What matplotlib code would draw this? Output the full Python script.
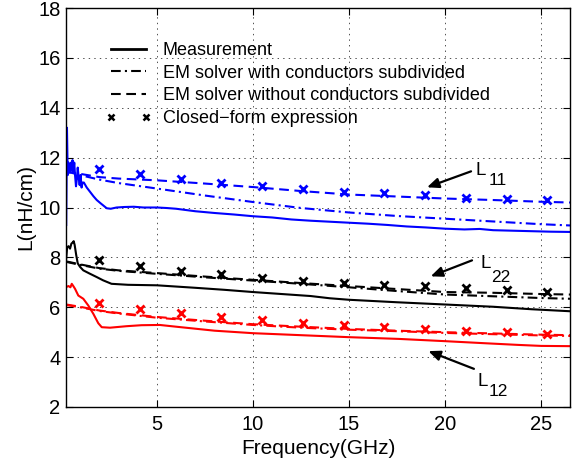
import matplotlib
matplotlib.use("Agg")
import matplotlib.pyplot as plt

plt.rcParams['font.family'] = ['Liberation Sans', 'DejaVu Sans']
plt.rcParams['lines.scale_dashes'] = False

# ---------------- data ----------------
# L11 (blue)
f_meas11 = [0.28, 0.32, 0.36, 0.40, 0.44, 0.48, 0.53, 0.57, 0.61, 0.65, 0.70, 0.74, 0.79, 0.83,
            0.88, 0.93, 0.98, 1.03, 1.08, 1.13, 1.2, 1.35, 1.5, 1.7, 1.87, 2.1, 2.39, 2.6, 2.9,
            3.3, 3.8, 4.3, 5.0, 5.5, 6.0, 7.0, 8.0, 9.0, 10.0, 11.0, 12.0, 13.0, 14.0, 15.0,
            16.0, 17.0, 18.0, 19.0, 20.0, 21.0, 21.8, 22.5, 23.5, 24.5, 25.5, 26.5]
L11_meas = [9.3, 13.2, 11.3, 11.8, 11.4, 11.4, 11.8, 11.5, 11.9, 11.4, 11.8, 11.3, 10.85, 11.1,
            11.6, 11.2, 10.9, 11.3, 10.8, 11.0, 11.0, 10.8, 10.65, 10.45, 10.3, 10.15, 9.97, 9.95, 10.0,
            10.02, 10.03, 10.0, 10.0, 9.98, 9.95, 9.85, 9.78, 9.72, 9.65, 9.6, 9.52, 9.47, 9.43, 9.39,
            9.35, 9.3, 9.24, 9.2, 9.15, 9.12, 9.14, 9.09, 9.07, 9.05, 9.03, 9.02]
f_em = [0.28, 1.0, 2.0, 3.0, 5.0, 7.5, 10.0, 12.5, 15.0, 17.5, 20.0, 22.5, 25.0, 26.5]
L11_sub = [11.45, 11.3, 11.12, 10.98, 10.76, 10.48, 10.22, 9.98, 9.8, 9.66, 9.55, 9.44, 9.33, 9.28]
L11_nosub = [11.45, 11.35, 11.22, 11.16, 11.09, 10.96, 10.82, 10.66, 10.52, 10.44, 10.36, 10.3, 10.23, 10.2]
f_cf = [2.0, 4.12, 6.24, 8.36, 10.48, 12.6, 14.72, 16.84, 18.96, 21.08, 23.2, 25.32]
L11_cf = [11.53, 11.33, 11.13, 10.98, 10.85, 10.73, 10.62, 10.58, 10.49, 10.4, 10.36, 10.29]

# L22 (black)
f_meas22 = [0.28, 0.33, 0.40, 0.48, 0.55, 0.62, 0.67, 0.72, 0.80, 0.88, 1.0, 1.17, 1.5, 1.87,
            2.2, 2.64, 3.5, 5.0, 6.0, 7.0, 8.5, 10.0, 11.5, 13.0, 14.0, 15.0, 17.5, 20.0, 22.5, 24.5, 26.5]
L22_meas = [7.95, 8.4, 8.45, 8.35, 8.55, 8.6, 8.65, 8.5, 8.1, 7.76, 7.62, 7.48, 7.35, 7.21,
            7.08, 6.94, 6.9, 6.88, 6.83, 6.78, 6.7, 6.61, 6.53, 6.45, 6.36, 6.3, 6.2, 6.11, 6.02, 5.92, 5.84]
L22_sub = [7.82, 7.7, 7.55, 7.46, 7.34, 7.2, 7.07, 6.94, 6.8, 6.65, 6.51, 6.44, 6.37, 6.34]
L22_nosub = [7.84, 7.72, 7.57, 7.48, 7.37, 7.23, 7.1, 6.97, 6.85, 6.73, 6.61, 6.58, 6.53, 6.51]
L22_cf = [7.88, 7.65, 7.45, 7.32, 7.18, 7.07, 6.97, 6.9, 6.84, 6.77, 6.7, 6.61]

# L12 (red)
f_meas12 = [0.28, 0.4, 0.5, 0.57, 0.65, 0.74, 0.91, 1.17, 1.43, 1.69, 1.95, 2.13, 2.56, 3.42,
            4.2, 5.15, 6.0, 7.0, 8.0, 10.0, 12.5, 15.0, 17.6, 20.0, 22.0, 23.8, 25.0, 26.5]
L12_meas = [6.81, 6.85, 6.8, 6.94, 6.85, 6.74, 6.47, 6.34, 6.07, 5.74, 5.36, 5.2, 5.18, 5.24,
            5.28, 5.29, 5.22, 5.14, 5.06, 4.96, 4.88, 4.8, 4.73, 4.64, 4.56, 4.49, 4.45, 4.44]
L12_sub = [6.09, 6.0, 5.85, 5.75, 5.58, 5.43, 5.29, 5.18, 5.1, 5.04, 4.97, 4.92, 4.87, 4.85]
L12_nosub = [6.11, 6.02, 5.87, 5.77, 5.61, 5.46, 5.32, 5.22, 5.13, 5.06, 5.0, 4.95, 4.9, 4.88]
L12_cf = [6.17, 5.94, 5.76, 5.6, 5.47, 5.36, 5.28, 5.19, 5.11, 5.05, 5.0, 4.93]

legend_labels = ["Measurement", "EM solver with conductors subdivided",
                 "EM solver without conductors subdivided", "Closed\u2212form expression"]

# ---------------- plot ----------------
fig = plt.figure(figsize=(5.81, 4.66), dpi=100)
ax = fig.add_axes([66/581, 1 - 407/466, 504/581, 399/466])

DASH = (0, (7, 4))
DASHDOT = (0, (7, 3, 1.5, 3))
lw = 1.5
mk = dict(linestyle='none', marker='x', markersize=6, markeredgewidth=2.0)

for col, fm, lm, ls_, ln_, lc_ in [
        ('#0000ff', f_meas11, L11_meas, L11_sub, L11_nosub, L11_cf),
        ('#000000', f_meas22, L22_meas, L22_sub, L22_nosub, L22_cf),
        ('#ff0000', f_meas12, L12_meas, L12_sub, L12_nosub, L12_cf)]:
    ax.plot(fm, lm, color=col, lw=lw, linestyle='-')
    ax.plot(f_em, ls_, color=col, lw=lw, linestyle=DASHDOT)
    ax.plot(f_em, ln_, color=col, lw=lw, linestyle=DASH)
    ax.plot(f_cf, lc_, color=col, **mk)

# legend with black proxies
h1, = ax.plot([], [], color='k', lw=2, linestyle='-')
h2, = ax.plot([], [], color='k', lw=lw, linestyle=DASHDOT)
h3, = ax.plot([], [], color='k', lw=lw, linestyle=DASH)
h4, = ax.plot([], [], color='k', linestyle='none', marker='x', markersize=5, markeredgewidth=1.8)
ax.legend([h1, h2, h3, h4], legend_labels, loc='upper left', bbox_to_anchor=(0.079, 0.915),
          frameon=False, fontsize=13, handlelength=2.5, handletextpad=0.65,
          labelspacing=0.32, borderpad=0, borderaxespad=0, numpoints=2)

ax.set_xlim(0.27, 26.5)
ax.set_ylim(2, 18)
ax.set_xticks([5, 10, 15, 20, 25])
ax.set_yticks(range(2, 19, 2))
ax.grid(True, linestyle=(0, (1, 3)), color='#333333', linewidth=0.6)
ax.tick_params(direction='in', length=5, width=0.8, top=True, right=True,
               labelsize=14.5)
ax.tick_params(axis='x', pad=5.5)
ax.tick_params(axis='y', pad=4)
for s in ax.spines.values():
    s.set_linewidth(1.0)

ax.set_xlabel("Frequency(GHz)", fontsize=15, labelpad=3.5)
ax.set_ylabel("L(nH/cm)", fontsize=15, labelpad=2)

# annotations
arrow = dict(arrowstyle='-|>,head_length=0.7,head_width=0.3', color='k', lw=1.6,
             shrinkA=0, shrinkB=0)
ax.annotate('', xy=(19.06, 10.81), xytext=(21.35, 11.45), arrowprops=arrow)
ax.annotate('', xy=(19.25, 7.24), xytext=(21.4, 7.88), arrowprops=arrow)
ax.annotate('', xy=(19.13, 4.24), xytext=(21.5, 3.53), arrowprops=arrow)
for xL, yL, xs, ys, sub in [(21.6, 11.29, 22.28, 10.89, '11'),
                            (21.85, 7.56, 22.37, 7.01, '22'),
                            (21.67, 2.86, 22.28, 2.46, '12')]:
    ax.text(xL, yL, 'L', fontsize=13.5, ha='left', va='baseline')
    ax.text(xs, ys, sub, fontsize=12.5, ha='left', va='baseline')

fig.savefig('out.png', dpi=100)
